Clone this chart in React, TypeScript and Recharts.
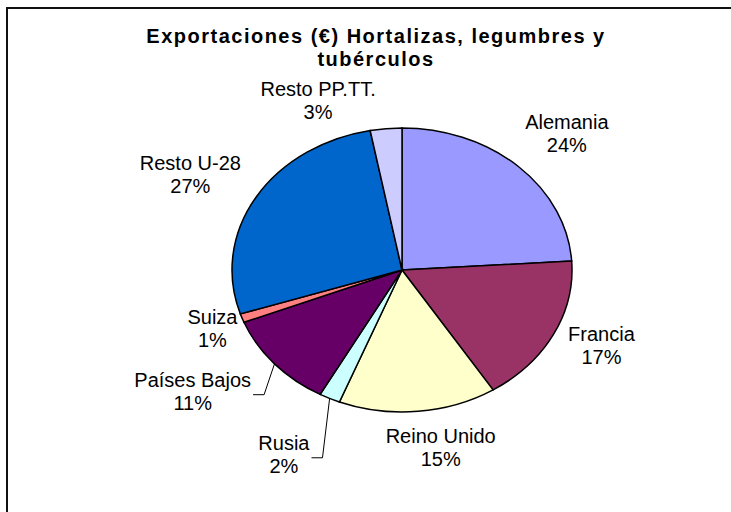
import React from "react";
import { PieChart, Pie, Cell } from "recharts";

const categories = ["Alemania", "Francia", "Reino Unido", "Rusia", "Países Bajos", "Suiza", "Resto U-28", "Resto PP.TT."];
const values = [24, 17, 15, 2, 11, 1, 27, 3];
const colors = ["#9999FF", "#993366", "#FFFFCC", "#CCFFFF", "#660066", "#FF8080", "#0066CC", "#CCCCFF"];
const titleLines = ["Exportaciones (€) Hortalizas, legumbres y", "tubérculos"];

const data = categories.map((name, i) => ({ name, value: values[i] }));

// layout / style constants
const W = 731;
const H = 512;
const CX = 402;
const CY = 270;
const R = 170;
const SCALE_Y = 142 / 170;
const FS = 20;
const LINE = 23;
const GAP = 16;
const TEXT_DY = -3;
const FONT = '"Liberation Sans", Arial, sans-serif';
const LABEL_NUDGE: Record<string, [number, number]> = {
  "Alemania": [9, -2],
  "Francia": [4, -4],
  "Reino Unido": [16, 0],
  "Rusia": [-28, 24],
  "Países Bajos": [-26, 5],
  "Suiza": [9, 0],
  "Resto U-28": [-8, 0],
  "Resto PP.TT.": [-61, 14],
};
const LEADER = ["Rusia", "Países Bajos"];

let ctx: CanvasRenderingContext2D | null = null;
const measure = (t: string) => {
  if (!ctx) {
    ctx = document.createElement("canvas").getContext("2d");
  }
  if (!ctx) return t.length * FS * 0.55;
  ctx.font = `${FS}px ${FONT}`;
  return ctx.measureText(t).width;
};

const renderLabel = (props: any) => {
  const { cx, cy, midAngle, percent, name, outerRadius } = props;
  const rad = (midAngle * Math.PI) / 180;
  const sx = Math.cos(rad);
  const sy = -Math.sin(rad);
  const rx = outerRadius;
  const ry = outerRadius * SCALE_Y;
  const pct = `${Math.round(percent * 100)}%`;
  const w = Math.max(measure(name), measure(pct));
  const h = 2 * LINE;
  let x = cx + (rx + GAP + w / 2) * sx;
  let y = cy + (ry + GAP + h / 2) * sy + TEXT_DY;
  const n = LABEL_NUDGE[name];
  if (n) {
    x += n[0];
    y += n[1];
  }
  const tw = measure(name);
  let leader = null;
  if (LEADER.includes(name)) {
    const ex = cx + rx * sx;
    const ey = cy + ry * sy;
    const right = x + tw / 2;
    const ly = y - TEXT_DY;
    leader = (
      <polyline
        points={`${ex},${ey} ${right + 13},${ly} ${right + 2},${ly}`}
        fill="none"
        stroke="#000"
        strokeWidth={1}
      />
    );
  }
  return (
    <g key={name}>
      {leader}
      <text x={x} y={y - LINE / 2} textAnchor="middle" dominantBaseline="central" fontSize={FS} fontFamily={FONT} fill="#000">
        {name}
      </text>
      <text x={x} y={y + LINE / 2} textAnchor="middle" dominantBaseline="central" fontSize={FS} fontFamily={FONT} fill="#000">
        {pct}
      </text>
    </g>
  );
};

export default function App() {
  return (
    <div style={{ position: "absolute", left: 0, top: 0, width: W, height: H, background: "#fff", overflow: "hidden" }}>
      <style>{`
        .ellpie .recharts-pie-sector { transform-origin: ${CX}px ${CY}px; transform: scaleY(${SCALE_Y}); }
        .ellpie .recharts-sector { vector-effect: non-scaling-stroke; }
      `}</style>
      <div
        style={{
          position: "absolute",
          left: 6,
          top: 7,
          width: W + 40,
          height: H + 40,
          border: "2px solid #111",
          boxSizing: "border-box",
        }}
      />
      <div
        style={{
          position: "absolute",
          left: 0,
          top: 25,
          width: 752,
          textAlign: "center",
          fontFamily: FONT,
          fontWeight: "bold",
          fontSize: 20,
          lineHeight: "23px",
          letterSpacing: 1.5,
          color: "#000",
        }}
      >
        {titleLines.map((t) => (
          <div key={t}>{t}</div>
        ))}
      </div>
      <div className="ellpie" style={{ position: "absolute", left: 0, top: 0 }}>
        <PieChart width={W} height={H} margin={{ top: 0, right: 0, bottom: 0, left: 0 }}>
          <Pie
            data={data}
            dataKey="value"
            nameKey="name"
            cx={CX}
            cy={CY}
            outerRadius={R}
            startAngle={90}
            endAngle={-270}
            stroke="#000"
            strokeWidth={1.5}
            isAnimationActive={false}
            labelLine={false}
            label={renderLabel}
          >
            {data.map((d, i) => (
              <Cell key={d.name} fill={colors[i]} />
            ))}
          </Pie>
        </PieChart>
      </div>
    </div>
  );
}
